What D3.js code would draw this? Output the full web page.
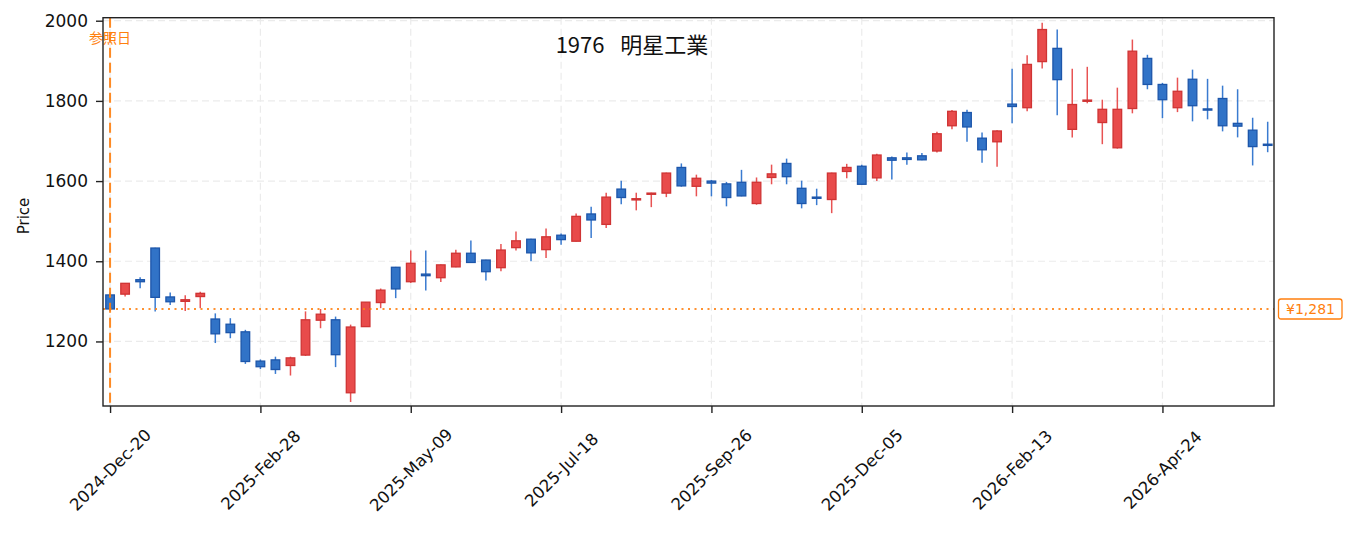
<!DOCTYPE html>
<html>
<head>
<meta charset="utf-8">
<script src="https://cdn.jsdelivr.net/npm/d3@7"></script>
<style>
  body { margin: 0; background: #fff; }
  svg { display: block; font-family: "DejaVu Sans", "Noto Sans CJK JP", sans-serif; }
</style>
</head>
<body>
<svg id="chart" width="1353" height="534"></svg>
<script>
// weekly candles, 2024-12-20 .. 2026-06-12
var opens  = [1316,1318,1354,1433,1311,1300,1312,1256,1243,1224,1151,1154,1140,1166,1253,1254,1072,1237,1297,1385,
              1349,1368,1359,1386,1420,1403,1384,1434,1455,1429,1465,1450,1518,1492,1580,1553,1567,1570,1634,1587,
              1600,1593,1597,1544,1609,1644,1582,1560,1554,1624,1637,1608,1658,1658,1663,1675,1738,1771,1707,1698,
              1792,1783,1898,1931,1729,1799,1746,1683,1781,1906,1841,1783,1854,1780,1806,1744,1727,1692];
var highs  = [1322,1346,1360,1434,1322,1315,1324,1270,1258,1229,1155,1162,1162,1275,1281,1262,1242,1298,1332,1386,
              1427,1427,1392,1429,1452,1404,1443,1474,1456,1482,1469,1519,1536,1571,1601,1571,1571,1621,1644,1616,
              1603,1598,1628,1609,1641,1656,1601,1581,1621,1643,1641,1668,1661,1671,1670,1723,1777,1778,1721,1727,
              1880,1914,1995,1978,1880,1885,1803,1833,1953,1915,1845,1858,1878,1855,1838,1829,1758,1748];
var lows   = [1276,1312,1333,1275,1291,1276,1283,1196,1208,1144,1131,1119,1115,1164,1233,1136,1049,1237,1283,1308,
              1346,1327,1348,1385,1396,1352,1375,1427,1400,1408,1441,1449,1458,1483,1542,1527,1535,1560,1586,1562,
              1562,1537,1562,1541,1592,1592,1532,1540,1520,1607,1591,1600,1604,1641,1652,1671,1729,1698,1646,1636,
              1744,1774,1881,1764,1709,1794,1692,1681,1769,1829,1757,1772,1749,1754,1724,1709,1639,1672];
var closes = [1281,1345,1349,1310,1299,1304,1320,1219,1222,1150,1137,1130,1159,1254,1268,1167,1236,1298,1328,1331,
              1395,1364,1391,1420,1397,1374,1428,1451,1421,1461,1454,1512,1503,1560,1559,1556,1570,1620,1588,1607,
              1595,1559,1563,1597,1618,1611,1544,1558,1620,1634,1592,1665,1652,1654,1653,1718,1774,1735,1678,1725,
              1786,1891,1978,1853,1791,1802,1779,1779,1924,1841,1803,1824,1788,1778,1738,1737,1686,1690];

var xTickIdx    = [0, 10, 20, 30, 40, 50, 60, 70];
var xTickLabels = ["2024-Dec-20","2025-Feb-28","2025-May-09","2025-Jul-18","2025-Sep-26","2025-Dec-05","2026-Feb-13","2026-Apr-24"];
var yTicks = [1200, 1400, 1600, 1800, 2000];

var title = "1976  明星工業";
var refIdx = 0;
var refPrice = 1281;
var refLabel = "参照日";
var refPriceLabel = "¥1,281";

var svg = d3.select("#chart");
var L = 103, R = 1274, T = 17.7, B = 406;

var x = d3.scaleLinear().domain([-0.47, opens.length - 0.58]).range([L, R]);
var y = d3.scaleLinear().domain([1039, 2007.5]).range([B, T]);

var upFill = "#e84b4b", upEdge = "#cf3434", upWick = "#e85353";
var dnFill = "#3173c7", dnEdge = "#1d56aa", dnWick = "#3a7bd0";
var orange = "#ff7f0e";

// grid
var grid = svg.append("g");
grid.selectAll("line.gy").data(yTicks).enter().append("line")
	.attr("x1", L).attr("x2", R)
	.attr("y1", function(d){ return y(d); }).attr("y2", function(d){ return y(d); })
	.attr("stroke", "#ebebeb").attr("stroke-width", 1.2).attr("stroke-dasharray", "7,4");
grid.selectAll("line.gx").data(xTickIdx).enter().append("line")
	.attr("y1", T).attr("y2", B)
	.attr("x1", function(d){ return x(d); }).attr("x2", function(d){ return x(d); })
	.attr("stroke", "#ebebeb").attr("stroke-width", 1.2).attr("stroke-dasharray", "7,4");

// candles
var idx = d3.range(opens.length);
var bw = 8.6;
var g = svg.append("g");
g.selectAll("line.wick").data(idx).enter().append("line")
	.attr("x1", function(i){ return x(i); }).attr("x2", function(i){ return x(i); })
	.attr("y1", function(i){ return y(highs[i]); }).attr("y2", function(i){ return y(lows[i]); })
	.attr("stroke", function(i){ return closes[i] >= opens[i] ? upWick : dnWick; })
	.attr("stroke-width", 1.5);
g.selectAll("rect.body").data(idx).enter().append("rect")
	.attr("x", function(i){ return x(i) - bw / 2; })
	.attr("width", bw)
	.attr("y", function(i){ return y(Math.max(opens[i], closes[i])); })
	.attr("height", function(i){ return Math.max(1.2, Math.abs(y(opens[i]) - y(closes[i]))); })
	.attr("fill", function(i){ return closes[i] >= opens[i] ? upFill : dnFill; })
	.attr("stroke", function(i){ return closes[i] >= opens[i] ? upEdge : dnEdge; })
	.attr("stroke-width", 1.3);

// reference lines
svg.append("line")
	.attr("x1", L).attr("x2", R).attr("y1", y(refPrice)).attr("y2", y(refPrice))
	.attr("stroke", orange).attr("stroke-width", 2).attr("stroke-dasharray", "2,4.5").attr("opacity", 0.85);
svg.append("line")
	.attr("x1", x(refIdx)).attr("x2", x(refIdx)).attr("y1", T).attr("y2", B)
	.attr("stroke", orange).attr("stroke-width", 2).attr("stroke-dasharray", "10,5").attr("opacity", 0.9);

svg.append("text")
	.attr("x", x(refIdx)).attr("y", 43)
	.attr("text-anchor", "middle")
	.attr("font-size", 14).attr("fill", orange)
	.style("font-family", "'Noto Sans CJK JP', sans-serif")
	.text(refLabel);

// frame
svg.append("rect")
	.attr("x", L).attr("y", T).attr("width", R - L).attr("height", B - T)
	.attr("fill", "none").attr("stroke", "#222").attr("stroke-width", 1.4);

// y axis
var yAxis = svg.append("g").attr("transform", "translate(" + L + ",0)")
	.call(d3.axisLeft(y).tickValues(yTicks).tickSize(7).tickPadding(8).tickFormat(d3.format("d")));
yAxis.select(".domain").remove();
yAxis.selectAll("line").attr("stroke", "#222").attr("stroke-width", 1.4);
yAxis.selectAll("text").attr("font-size", 17).attr("fill", "#111")
	.style("font-family", "'DejaVu Sans', sans-serif");

// x axis
var xAxis = svg.append("g").attr("transform", "translate(0," + B + ")")
	.call(d3.axisBottom(x).tickValues(xTickIdx).tickSize(7)
		.tickFormat(function(d){ return xTickLabels[xTickIdx.indexOf(d)]; }));
xAxis.select(".domain").remove();
xAxis.selectAll("line").attr("stroke", "#222").attr("stroke-width", 1.4);
xAxis.selectAll("text")
	.attr("font-size", 16.5).attr("fill", "#111")
	.style("font-family", "'DejaVu Sans', sans-serif")
	.attr("text-anchor", "middle")
	.attr("dy", null)
	.attr("dominant-baseline", "central")
	.attr("y", 0)
	.attr("transform", "translate(0,64) rotate(-45)");

// y label
svg.append("text")
	.attr("transform", "translate(29,216) rotate(-90)")
	.attr("text-anchor", "middle")
	.attr("font-size", 15).attr("fill", "#111")
	.text("Price");

// title
svg.append("text")
	.attr("x", 632).attr("y", 53)
	.attr("text-anchor", "middle")
	.attr("font-size", 22).attr("fill", "#111")
	.style("font-family", "'Noto Sans CJK JP', sans-serif")
	.style("white-space", "pre")
	.attr("word-spacing", 3)
	.text(title);

// price box on right
var pb = svg.append("g").attr("transform", "translate(1278.5," + y(refPrice) + ")");
pb.append("rect")
	.attr("x", 0).attr("y", -10).attr("width", 63.5).attr("height", 20).attr("rx", 2.5)
	.attr("fill", "#fff").attr("stroke", orange).attr("stroke-width", 1.3);
pb.append("text")
	.attr("x", 32).attr("y", 0).attr("dominant-baseline", "central")
	.attr("text-anchor", "middle").attr("font-size", 14).attr("fill", orange)
	.text(refPriceLabel);
</script>
</body>
</html>
